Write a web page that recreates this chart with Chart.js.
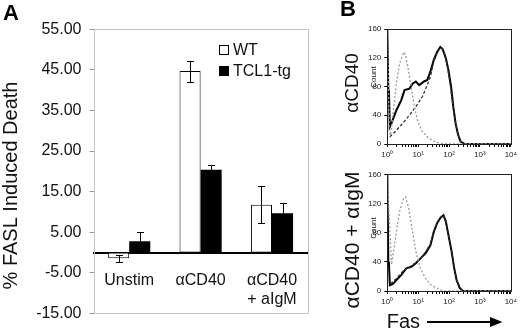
<!DOCTYPE html>
<html><head><meta charset="utf-8">
<script src="https://cdn.jsdelivr.net/npm/chart.js@4"></script>
<style>
html,body{margin:0;padding:0;background:#fff;overflow:hidden}
#wrap{position:relative;width:520px;height:331px;background:#fff}
canvas{position:absolute}
</style></head><body>
<div id="wrap">
<canvas id="cA" width="335" height="331" style="left:0;top:0;width:335px;height:331px"></canvas>
<canvas id="cB1" width="185" height="165" style="left:335px;top:0;width:185px;height:165px"></canvas>
<canvas id="cB2" width="185" height="166" style="left:335px;top:165px;width:185px;height:166px"></canvas>
</div>
<script>
// ---------- Panel A data ----------
const categories = ['Unstim', 'αCD40', ['αCD40', '+ aIgM']];
const seriesNames = ['WT', 'TCL1-tg'];
const wtValues = [-1.4, 44.7, 11.8];
const wtErrors = [0.9, 2.6, 4.6];
const tgValues = [2.8, 20.4, 9.7];
const tgErrors = [2.2, 1.2, 2.5];
const yTicksA = [-15, -5, 5, 15, 25, 35, 45, 55];

// ---------- Panel B data (Fas fluorescence vs count) ----------
const countTicks = [0, 40, 80, 120, 160];
const decades = [1, 10, 100, 1000, 10000];
const decadeLabels = ['10⁰', '10¹', '10²', '10³', '10⁴'];

// αCD40
const cd40SolidX = [1, 1.08, 1.13, 1.21, 1.37, 1.97, 2.84, 3.61, 5.2, 6.6, 8.4, 10.8, 15.5, 19.7, 25, 32, 41, 52, 62, 79, 95, 116, 137, 162, 197, 239, 320, 10000];
const cd40SolidY = [160, 75, 73, 24, 29, 47, 61, 75, 77, 84, 87, 82, 87, 89, 101, 117, 128, 135, 132, 119, 103, 80, 52, 29, 12.5, 3, 0, 0];
const cd40DashX = [1.21, 1.97, 3.2, 5.2, 8.4, 13.7, 19.7, 25, 32, 41, 52, 66, 83, 105, 125, 155, 190, 230, 290, 10000];
const cd40DashY = [10, 19, 29, 40, 52, 66, 82, 94, 115, 127, 134, 131, 115, 88, 62, 35, 15, 4, 0, 0];
const cd40CtrlX = [1, 1.16, 1.27, 1.55, 1.97, 2.5, 3.4, 3.9, 4.6, 5.9, 7.5, 9.5, 13.7, 22, 36, 52, 75, 10000];
const cd40CtrlY = [160, 19, 12, 43, 84, 112, 128, 124, 108, 80, 52, 33, 17, 8, 3, 1, 0, 0];

// αCD40 + αIgM
const igmSolidX = [1, 1.08, 1.13, 1.21, 1.55, 1.97, 2.84, 4.1, 5.9, 8.4, 12.1, 17.5, 25, 32, 41, 52, 66, 79, 95, 121, 147, 175, 222, 284, 10000];
const igmSolidY = [160, 40, 38, 8, 10, 15, 22, 31, 33, 38, 45, 52, 63, 81, 93, 100, 104, 95, 77, 54, 31, 15, 4, 0, 0];
const igmDashX = [1.27, 1.97, 3.2, 5.2, 8.4, 13.7, 25, 32, 41, 52, 66, 79, 95, 121, 147, 175, 222, 284, 10000];
const igmDashY = [10, 17, 27, 33, 39, 47, 64, 82, 94, 101, 104, 96, 78, 55, 32, 16, 5, 0, 0];
const igmCtrlX = [1, 1.1, 1.37, 1.97, 2.5, 3.2, 3.9, 4.95, 6.3, 8.4, 11.3, 17.5, 28, 46, 66, 10000];
const igmCtrlY = [160, 120, 36, 81, 109, 125, 129, 113, 86, 54, 33, 17, 7, 3, 0, 0];

const FONT = "'Liberation Sans', Arial, Helvetica, sans-serif";
Chart.defaults.font.family = FONT;
Chart.defaults.color = '#111';

function rotText(ctx, txt, x, y, size, weight) {
  ctx.save();
  ctx.translate(x, y);
  ctx.rotate(-Math.PI / 2);
  ctx.font = (weight || 'normal') + ' ' + size + 'px ' + FONT;
  ctx.fillStyle = '#111';
  ctx.textAlign = 'center';
  ctx.textBaseline = 'middle';
  ctx.fillText(txt, 0, 0);
  ctx.restore();
}

// ---------- Panel A ----------
const panelAPlugin = {
  id: 'panelA',
  beforeDatasetsDraw(chart) {
    const {ctx, chartArea: a} = chart;
    ctx.save();
    ctx.strokeStyle = '#c4c4c4';
    ctx.lineWidth = 1;
    ctx.strokeRect(Math.round(a.left) + 0.5, Math.round(a.top) + 0.5, Math.round(a.right - a.left), Math.round(a.bottom - a.top));
    ctx.restore();
  },
  afterDatasetsDraw(chart) {
    const ctx = chart.ctx, y = chart.scales.y;
    chart.data.datasets.forEach((ds, i) => {
      const meta = chart.getDatasetMeta(i);
      meta.data.forEach((bar, j) => {
        const v = ds.data[j], e = ds.errors[j];
        const top = Math.round(y.getPixelForValue(v + e)) + 0.5;
        const bot = Math.round(y.getPixelForValue(v - e)) + 0.5;
        const x = Math.round(bar.x) + 0.5;
        ctx.save();
        ctx.strokeStyle = '#000';
        ctx.lineWidth = 1;
        ctx.beginPath();
        ctx.moveTo(x, top); ctx.lineTo(x, bot);
        ctx.moveTo(x - 3.5, top); ctx.lineTo(x + 3.5, top);
        ctx.moveTo(x - 3.5, bot); ctx.lineTo(x + 3.5, bot);
        ctx.stroke();
        ctx.restore();
      });
    });
  },
  afterDraw(chart) {
    const ctx = chart.ctx;
    // panel letter
    ctx.save();
    ctx.font = 'bold 22px ' + FONT;
    ctx.fillStyle = '#000';
    ctx.textBaseline = 'alphabetic';
    ctx.fillText('A', 3, 20);
    ctx.restore();
    // y title
    rotText(ctx, '% FASL Induced Death', 11, 185.5, 20);
    // legend
    chart.data.datasets.forEach((ds, i) => {
      const yc = 50 + i * 21;
      ctx.save();
      ctx.fillStyle = ds.backgroundColor;
      ctx.fillRect(219.5, yc - 4.5, 9, 9);
      ctx.strokeStyle = '#000';
      ctx.lineWidth = 1;
      ctx.strokeRect(219.5, yc - 4.5, 9, 9);
      ctx.font = '16px ' + FONT;
      ctx.fillStyle = '#111';
      ctx.textBaseline = 'middle';
      ctx.fillText(ds.label, 233, yc + 1);
      ctx.restore();
    });
  }
};

new Chart(document.getElementById('cA'), {
  type: 'bar',
  data: {
    labels: categories,
    datasets: [
      {label: seriesNames[0], data: wtValues, errors: wtErrors, backgroundColor: '#ffffff', borderColor: '#000', borderWidth: 1, borderSkipped: false},
      {label: seriesNames[1], data: tgValues, errors: tgErrors, backgroundColor: '#000000', borderColor: '#000', borderWidth: 0}
    ]
  },
  options: {
    responsive: false,
    animation: false,
    layout: {padding: {left: 0, right: 27.3, top: 29.3, bottom: 17}},
    categoryPercentage: 0.59,
    barPercentage: 1.0,
    plugins: {legend: {display: false}, tooltip: {enabled: false}},
    scales: {
      x: {
        position: {y: 0},
        z: 1,
        grid: {display: false, drawTicks: false},
        border: {display: true, color: '#000', width: 2},
        ticks: {font: {size: 16}, padding: 18, color: '#111', maxRotation: 0, autoSkip: false}
      },
      y: {
        min: -15, max: 55,
        afterBuildTicks: (s) => { s.ticks = yTicksA.map(v => ({value: v})); },
        afterFit: (s) => { s.width = 93.5; },
        grid: {display: true, drawOnChartArea: false, tickLength: 4, color: '#999'},
        border: {display: false},
        ticks: {font: {size: 16}, padding: 8, color: '#111', callback: (v) => Number(v).toFixed(2)}
      }
    }
  },
  plugins: [panelAPlugin]
});

// ---------- Panel B ----------
function pts(xs, ys) { return xs.map((x, i) => ({x: x, y: ys[i]})); }
const minorTicks = [];
decades.forEach((d, k) => { minorTicks.push(d); if (k < decades.length - 1) { for (let m = 2; m <= 9; m++) minorTicks.push(d * m); } });

function histPlugin(drawText) {
  return {
    id: 'histText',
    afterDraw(chart) {
      const {ctx, chartArea: a} = chart;
      ctx.save();
      ctx.strokeStyle = '#222';
      ctx.lineWidth = 1;
      ctx.strokeRect(Math.round(a.left) + 0.5, Math.round(a.top) + 0.5, Math.round(a.right - a.left), Math.round(a.bottom - a.top));
      ctx.restore();
      drawText(ctx);
    }
  };
}

function makeHist(id, solid, dash, ctrl, pad, xH, drawText) {
  new Chart(document.getElementById(id), {
    type: 'scatter',
    data: {
      datasets: [
        {data: ctrl, showLine: true, borderColor: '#9a9a9a', borderWidth: 1.3, borderDash: [2, 2], pointRadius: 0, tension: 0},
        {data: dash, showLine: true, borderColor: '#333', borderWidth: 1.3, borderDash: [3, 2], pointRadius: 0, tension: 0},
        {data: solid, showLine: true, borderColor: '#000', borderWidth: 2, pointRadius: 0, tension: 0}
      ]
    },
    options: {
      responsive: false,
      animation: false,
      layout: {padding: pad},
      plugins: {legend: {display: false}, tooltip: {enabled: false}},
      scales: {
        x: {
          type: 'logarithmic', min: 1, max: 10000,
          afterBuildTicks: (s) => { s.ticks = minorTicks.map(v => ({value: v, major: decades.includes(v)})); },
          afterFit: (s) => { s.height = xH; },
          grid: {drawOnChartArea: false, tickLength: 3, color: '#000'},
          border: {color: '#000', width: 1},
          ticks: {autoSkip: false, maxRotation: 0, font: {size: 8}, padding: 3, color: '#222',
            callback: (v) => { const k = decades.indexOf(v); return k >= 0 ? decadeLabels[k] : ''; }}
        },
        y: {
          min: 0, max: 160,
          afterBuildTicks: (s) => { s.ticks = countTicks.map(v => ({value: v})); },
          afterFit: (s) => { s.width = 52.3; },
          grid: {drawOnChartArea: false, tickLength: 3, color: '#000'},
          border: {color: '#000', width: 1},
          ticks: {font: {size: 8}, padding: 3, color: '#222'}
        }
      }
    },
    plugins: [histPlugin(drawText)]
  });
}

makeHist('cB1', pts(cd40SolidX, cd40SolidY), pts(cd40DashX, cd40DashY), pts(cd40CtrlX, cd40CtrlY),
  {left: 0, right: 6, top: 29, bottom: 0}, 21, (ctx) => {
    ctx.save();
    ctx.font = 'bold 22px ' + FONT;
    ctx.fillStyle = '#000';
    ctx.fillText('B', 5, 16);
    ctx.restore();
    rotText(ctx, 'αCD40', 18, 83, 19);
    rotText(ctx, 'Count', 38.5, 77, 8);
  });

makeHist('cB2', pts(igmSolidX, igmSolidY), pts(igmDashX, igmDashY), pts(igmCtrlX, igmCtrlY),
  {left: 0, right: 6, top: 9.3, bottom: 0}, 40, (ctx) => {
    rotText(ctx, 'αCD40 + αIgM', 18, 75, 21);
    rotText(ctx, 'Count', 38.5, 63, 8);
    ctx.save();
    ctx.font = '20px ' + FONT;
    ctx.fillStyle = '#111';
    ctx.textBaseline = 'middle';
    ctx.fillText('Fas', 51.7, 157);
    ctx.strokeStyle = '#000';
    ctx.lineWidth = 2;
    ctx.beginPath();
    ctx.moveTo(92, 157); ctx.lineTo(157, 157);
    ctx.stroke();
    ctx.beginPath();
    ctx.moveTo(155, 152); ctx.lineTo(167.5, 157); ctx.lineTo(155, 162); ctx.closePath();
    ctx.fillStyle = '#000';
    ctx.fill();
    ctx.restore();
  });
</script>
</body></html>
